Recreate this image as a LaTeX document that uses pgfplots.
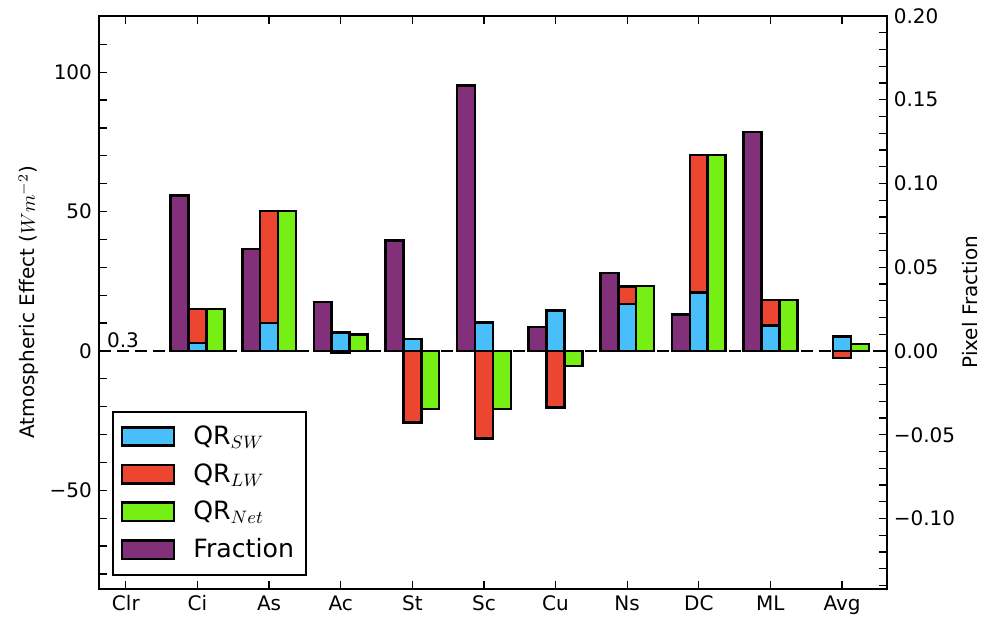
\documentclass[border=0pt]{standalone}
\usepackage{pgfplots}
\usepackage{pgfplotstable}
\pgfplotsset{compat=1.18}
\usepackage{fontspec}
\setmainfont{DejaVu Sans}
\definecolor{cSW}{RGB}{72,190,250}
\definecolor{cLW}{RGB}{236,70,48}
\definecolor{cNet}{RGB}{118,240,20}
\definecolor{cFr}{RGB}{130,48,122}
% x: category index; sw: QR_SW; lwtop: drawn extent of the LW bar (SW+LW when LW>0, LW when LW<0); net: QR_Net
\pgfplotstableread{
x sw lwtop net
1 2.8 15.1 15.1
2 10.0 50.2 50.2
3 6.7 -0.8 6.0
4 4.3 -25.6 -20.8
5 10.3 -31.4 -20.8
6 14.6 -20.2 -5.4
7 16.9 23.2 23.3
8 20.9 70.3 70.3
9 9.2 18.3 18.3
10 5.1 -2.6 2.5
}\qrdata
\pgfplotstableread{
x frac
1 0.0928
2 0.0609
3 0.0292
4 0.0660
5 0.1583
6 0.0142
7 0.0465
8 0.0216
9 0.1307
}\fracdata
\pgfplotsset{
  common/.style={
    scale only axis, width=393.9pt, height=286.4pt,
    xmin=-0.375, xmax=10.625,
    tick align=inside,
    major tick length=4pt, minor tick length=4pt,
    axis line style={line width=1.1pt},
    tick style={black, line width=0.6pt},
    minor tick style={black, line width=0.6pt},
    tick label style={font=\fontsize{10}{12}\selectfont},
    label style={font=\fontsize{10}{12}\selectfont},
  },
  barstyle/.style={ybar, bar width=0.25, draw=black, line width=1.3pt},
}
\begin{document}
\begin{tikzpicture}
\useasboundingbox (-49.5pt,-13.65pt) rectangle (448.5pt,294.35pt);
\begin{axis}[common,
  ymin=-0.1419, ymax=0.2,
  xtick=\empty,
  ytick pos=right, yticklabel pos=right,
  ytick={-0.10,-0.05,0,0.05,0.10,0.15,0.20},
  yticklabels={−0.10,−0.05,0.00,0.05,0.10,0.15,0.20},
  minor ytick={-0.14,-0.13,-0.12,-0.11,-0.09,-0.08,-0.07,-0.06,-0.04,-0.03,-0.02,-0.01,0.01,0.02,0.03,0.04,0.06,0.07,0.08,0.09,0.11,0.12,0.13,0.14,0.16,0.17,0.18,0.19},
  ylabel={Pixel Fraction},
  ylabel style={at={(axis description cs:1.106,0.5)}, anchor=center},
]
\addplot[barstyle, bar shift=-0.25, fill=cFr] table[x=x,y=frac]{\fracdata};
\end{axis}
\begin{axis}[common,
  ymin=-85.3, ymax=120.2,
  xtick={0,...,10},
  xticklabels={Clr,Ci,As,Ac,St,Sc,Cu,Ns,DC,ML,Avg},
  xtick pos=both, xticklabel pos=bottom,
  ytick pos=left, yticklabel pos=left,
  ytick={-50,0,50,100},
  yticklabels={−50,0,50,100},
  minor ytick={-80,-70,-60,-40,-30,-20,-10,10,20,30,40,60,70,80,90,110},
  ylabel={Atmospheric Effect ($Wm^{-2}$)},
  ylabel style={at={(axis description cs:-0.089,0.5)}, anchor=center},
  legend image code/.code={\draw[#1, line width=1.3pt] (0pt,-4.6pt) rectangle (26pt,4.6pt);},
  legend cell align=left,
  legend style={at={(rel axis cs:0.0161,0.0222)}, anchor=south west,
    draw=black, line width=1.1pt, font=\fontsize{12.6}{14}\selectfont,
    inner xsep=4pt, inner ysep=5pt, row sep=4pt,
    /tikz/every odd column/.append style={column sep=7pt}},
]
\addplot[black, line width=1.1pt, dash pattern=on 6pt off 3pt, forget plot] coordinates {(-0.375,0) (10.625,0)};
\addplot[barstyle, bar shift=0, fill=cLW, forget plot] table[x=x,y=lwtop]{\qrdata};
\addplot[barstyle, bar shift=0, fill=cSW, forget plot] table[x=x,y=sw]{\qrdata};
\addplot[barstyle, bar shift=0.25, fill=cNet, forget plot] table[x=x,y=net]{\qrdata};
\node[anchor=base, font=\fontsize{10}{12}\selectfont, inner sep=0pt] at (axis cs:-0.04,1.2) {0.3};
\addlegendimage{fill=cSW, draw=black}
\addlegendentry{QR$_{SW}$}
\addlegendimage{fill=cLW, draw=black}
\addlegendentry{QR$_{LW}$}
\addlegendimage{fill=cNet, draw=black}
\addlegendentry{QR$_{Net}$}
\addlegendimage{fill=cFr, draw=black}
\addlegendentry{Fraction}
\end{axis}
\end{tikzpicture}
\end{document}
